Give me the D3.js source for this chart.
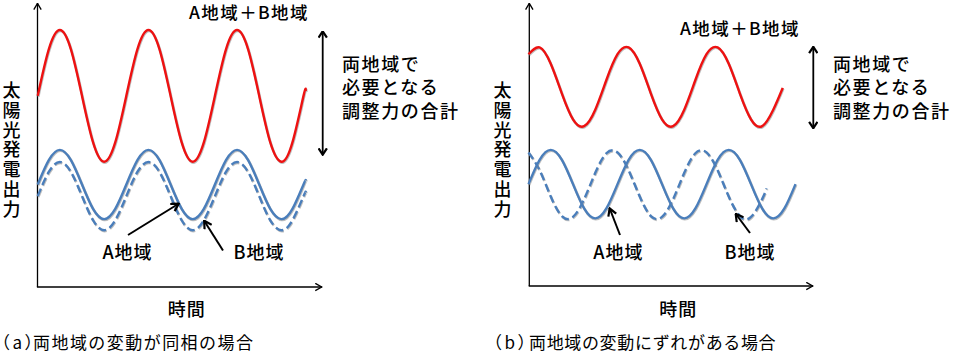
<!DOCTYPE html>
<html><head><meta charset="utf-8">
<script src="https://cdn.jsdelivr.net/npm/d3@7"></script>
<style>
html,body{margin:0;padding:0;background:#fff;}
svg text{font-family:"Noto Sans CJK JP","Noto Sans",sans-serif;fill:#000;}
.vert{writing-mode:vertical-rl;text-orientation:upright;}
.halt{font-feature-settings:"halt";}
</style></head>
<body><svg id="c" width="960" height="356"></svg>
<script>
// ---- data (time in 1/8-period steps, power in % of axis height) ----
const timeA = [0,1,2,3,4,5,6,7,8,9,10,11,12,13,14,15,16,17,18,19,20,21,22,23,24,24.2];
const sumA  = [67.3,83.7,90.5,83.7,67.3,50.9,44.1,50.9, 67.3,83.7,90.5,83.7,67.3,50.9,44.1,50.9, 67.3,83.7,90.5,83.7,67.3,50.9,44.1,50.9, 67.3,69.0];
const regionA_a = [36.1,44.7,48.3,44.7,36.1,27.5,23.9,27.5, 36.1,44.7,48.3,44.7,36.1,27.5,23.9,27.5, 36.1,44.7,48.3,44.7,36.1,27.5,23.9,27.5, 36.1,37.5];
const regionB_a = [32.0,40.5,44.0,40.5,32.0,23.5,20.0,23.5, 32.0,40.5,44.0,40.5,32.0,23.5,20.0,23.5, 32.0,40.5,44.0,40.5,32.0,23.5,20.0,23.5, 32.0,33.4];

const timeSumB = [0,1,2,3,4,5,6,7,8,9,10,11,12,13,14,15,16,17,18,19,20,21,22,22.85];
const sumB     = [81.9,84.3,78.5,68.0,58.9,56.5,62.3,72.8, 81.9,84.3,78.5,68.0,58.9,56.5,62.3,72.8, 81.9,84.3,78.5,68.0,58.9,56.5,62.3,70.0];
const timeAB   = [0,1,2,3,4,5,6,7,8,9,10,11,12,13,14,15,16,17,18,19,20,21,22,23,24];
const regionA_b = [36.0,44.6,48.1,44.6,36.0,27.4,23.9,27.4, 36.0,44.6,48.1,44.6,36.0,27.4,23.9,27.4, 36.0,44.6,48.1,44.6,36.0,27.4,23.9,27.4, 36.0];
const timeBB   = [0,1,2,3,4,5,6,7,8,9,10,11,12,13,14,15,16,17,18,19,20,21,21.4];
const regionB_b = [47.2,40.9,31.6,24.7,24.4,30.7,40.0,46.9, 47.2,40.9,31.6,24.7,24.4,30.7,40.0,46.9, 47.2,40.9,31.6,24.7,24.4,30.7,34.5];

// ---- text ----
const yLabel = "太陽光発電出力";
const xLabel = "時間";
const sumLabel = "A地域＋B地域";
const noteLines = ["両地域で","必要となる","調整力の合計"];
const labelA = "A地域", labelB = "B地域";
const captions = [["（a）","両地域の変動が同相の場合"],["（b）","両地域の変動にずれがある場合"]];

const RED = "#ee1111", BLUE = "#4a7ebb";
const svg = d3.select("#c");
const defs = svg.append("defs");
function marker(id, w, h, sw){
  defs.append("marker").attr("id",id).attr("viewBox",`0 0 ${w} ${h}`)
    .attr("refX",w-0.5).attr("refY",h/2).attr("markerWidth",w).attr("markerHeight",h)
    .attr("markerUnits","userSpaceOnUse").attr("orient","auto-start-reverse")
    .append("path").attr("d",`M0.8,0.8 L${w-0.8},${h/2} L0.8,${h-0.8}`)
    .attr("fill","none").attr("stroke","#000").attr("stroke-width",sw);
}
marker("ax",8,9,1.3);
marker("dbl",8,10,2.2);
marker("ann",9,10,2.2);

const panels = [
  {ox:37.5, oy:287, top:3, right:322, x0:37.7, x1:303.5,
   series:[{t:timeA,v:sumA,c:RED,d:null},{t:timeA,v:regionB_a,c:BLUE,d:"8,4"},{t:timeA,v:regionA_a,c:BLUE,d:null}],
   ylx:11.5, sum:[249,19], dbl:[322.7,31,155], note:342, xl:186.7,
   annA:[[128,235],[179,203.5]], annB:[[223,250.5],[204,220.5]], la:[127.5,259], lb:[259,259],
   cap:[1.5,33], capLs:1.45},
  {ox:529.3, oy:286, top:3, right:813, x0:528.5, x1:795.5,
   series:[{t:timeSumB,v:sumB,c:RED,d:null},{t:timeBB,v:regionB_b,c:BLUE,d:"8,4"},{t:timeAB,v:regionA_b,c:BLUE,d:null}],
   ylx:502.5, sum:[740,34.5], dbl:[813.3,46.5,128.5], note:833, xl:678.3,
   annA:[[620,235],[609.5,208]], annB:[[750,233],[735.5,213.5]], la:[618.3,259], lb:[750,259],
   cap:[493.5,529], capLs:0.65}
];

panels.forEach((p,pi)=>{
  const g = svg.append("g");
  const x = d3.scaleLinear().domain([0,24]).range([p.x0,p.x1]);
  const y = d3.scaleLinear().domain([0,100]).range([p.oy,p.top]);
  // axes
  g.append("line").attr("x1",p.ox).attr("y1",p.oy).attr("x2",p.ox).attr("y2",p.top)
    .attr("stroke","#000").attr("stroke-width",1.3).attr("marker-end","url(#ax)");
  g.append("line").attr("x1",p.ox-0.6).attr("y1",p.oy).attr("x2",p.right).attr("y2",p.oy)
    .attr("stroke","#000").attr("stroke-width",1.3).attr("marker-end","url(#ax)");
  // series
  p.series.forEach(s=>{
    const pts = s.t.map((t,i)=>[t,s.v[i]]);
    const line = d3.line().x(d=>x(d[0])).y(d=>y(d[1])).curve(d3.curveNatural);
    g.append("path").attr("d",line(pts)).attr("fill","none").attr("stroke","#888")
      .attr("stroke-opacity",0.55).attr("stroke-width",2.6).attr("transform","translate(0.6,0.9)")
      .attr("stroke-dasharray",s.d);
    g.append("path").attr("d",line(pts)).attr("fill","none").attr("stroke",s.c)
      .attr("stroke-width",2.4).attr("stroke-dasharray",s.d);
  });
  // y label (vertical)
  g.append("text").attr("class","vert").attr("x",p.ylx).attr("y",81.5)
    .attr("font-size",18).attr("font-weight",500).attr("letter-spacing",1.7).text(yLabel);
  g.append("text").attr("x",p.xl).attr("y",315.5).attr("text-anchor","middle")
    .attr("font-size",18).attr("font-weight",500).attr("letter-spacing",1).text(xLabel);
  g.append("text").attr("x",p.sum[0]).attr("y",p.sum[1]).attr("text-anchor","middle")
    .attr("font-size",17.5).attr("font-weight",500).attr("letter-spacing",1.4).text(sumLabel);
  // double arrow
  g.append("line").attr("x1",p.dbl[0]).attr("y1",p.dbl[1]).attr("x2",p.dbl[0]).attr("y2",p.dbl[2])
    .attr("stroke","#000").attr("stroke-width",1.8)
    .attr("marker-start","url(#dbl)").attr("marker-end","url(#dbl)");
  noteLines.forEach((t,i)=>{
    g.append("text").attr("x",p.note).attr("y",70.5+i*23.7).attr("font-size",18)
      .attr("font-weight",500).attr("letter-spacing",1.6).text(t);
  });
  // annotation arrows
  [p.annA,p.annB].forEach(a=>{
    g.append("line").attr("x1",a[0][0]).attr("y1",a[0][1]).attr("x2",a[1][0]).attr("y2",a[1][1])
      .attr("stroke","#000").attr("stroke-width",2).attr("marker-end","url(#ann)");
  });
  g.append("text").attr("x",p.la[0]).attr("y",p.la[1]).attr("text-anchor","middle")
    .attr("font-size",18).attr("font-weight",500).attr("letter-spacing",1).text(labelA);
  g.append("text").attr("x",p.lb[0]).attr("y",p.lb[1]).attr("text-anchor","middle")
    .attr("font-size",18).attr("font-weight",500).attr("letter-spacing",1).text(labelB);
  // caption
  g.append("text").attr("class","halt").attr("x",p.cap[0]).attr("y",349).attr("font-size",17)
    .attr("fill","#222").attr("letter-spacing",2.5).text(captions[pi][0]);
  g.append("text").attr("x",p.cap[1]).attr("y",349).attr("font-size",17)
    .attr("fill","#222").attr("letter-spacing",p.capLs).text(captions[pi][1]);
});
</script></body></html>
